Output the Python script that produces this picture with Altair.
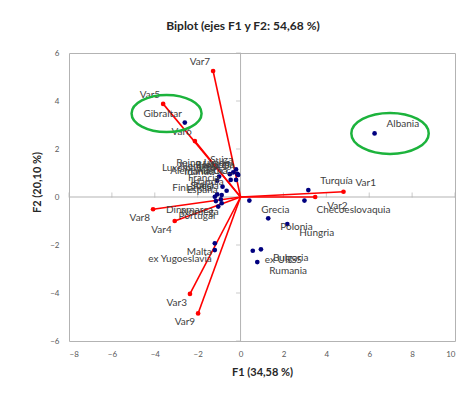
import altair as alt
import pandas as pd

# ---- variables (red vectors) ----
var_names = ["Var1", "Var2", "Var3", "Var4", "Var5", "Var6", "Var7", "Var8", "Var9"]
var_x = [4.80, 3.48, -2.36, -3.07, -3.61, -2.13, -1.28, -4.08, -1.98]
var_y = [0.22, 0.00, -4.04, -1.00, 3.88, 2.33, 5.25, -0.51, -4.85]
var_lab = ["above", "below", "below", "below", "above", "above", "above", "below", "below"]

# ---- observations (countries) ----
obs_names = ["Albania", "Gibraltar", "Turquía", "Checoeslovaquia", "Grecia", "Polonia",
             "Hungria", "ex URSS", "Bulgaria", "Rumania", "Malta", "ex Yugoeslavia",
             "Suiza", "Reino Unido", "Holanda", "Alemania Or.", "Bélgica", "Alemania Occ.",
             "Austria", "Luxemburgo", "Irlanda", "Francia", "Islandia", "Italia",
             "Suecia", "Finlandia", "España", "Dinamarca", "Noruega", "Portugal"]
obs_x = [6.25, -2.60, 3.16, 2.98, 0.41, 1.29,
         2.18, 0.57, 0.95, 0.78, -1.20, -1.20,
         -0.21, -0.34, -0.15, -0.11, -0.50, -0.21,
         -0.46, -1.00, -1.09, -0.84, -0.65, -1.09,
         -0.88, -1.20, -0.92, -1.15, -0.88, -1.04]
obs_y = [2.65, 3.10, 0.29, -0.15, -0.15, -0.89,
         -1.13, -2.24, -2.18, -2.71, -1.93, -2.21,
         1.15, 1.03, 0.96, 0.92, 0.95, 0.71,
         0.71, 0.85, 0.68, 0.43, 0.26, 0.11,
         0.08, 0.01, -0.10, -0.17, -0.26, -0.40]
obs_lab = ["above", "above", "above", "below", "below", "below",
           "below", "below", "below", "below", "below", "below",
           "above", "above", "above", "above", "above", "above",
           "above", "above", "above", "above", "above", "above",
           "above", "above", "above", "below", "below", "below"]

# ---- highlighted observations (green ellipses) ----
hl_names = ["Gibraltar", "Albania"]
hl_x = [-3.45, 6.97]
hl_y = [3.48, 2.65]

x_ticks = [-8, -6, -4, -2, 0, 2, 4, 6, 8, 10]
y_ticks = [-6, -4, -2, 0, 2, 4, 6]

FONT = "Lato"
GRAY = "#b3b3b3"
TXT = "#404040"

vars_df = pd.DataFrame({"name": var_names, "x": var_x, "y": var_y, "pos": var_lab})
obs_df = pd.DataFrame({"name": obs_names, "x": obs_x, "y": obs_y, "pos": obs_lab})
hl_df = pd.DataFrame({"name": hl_names, "x": hl_x, "y": hl_y})
xt_df = pd.DataFrame({"t": [v for v in x_ticks if v != 0]})
yt_df = pd.DataFrame({"t": [v for v in y_ticks if v != 0]})

xs = alt.Scale(domain=[-8, 10], nice=False, zero=False)
ys = alt.Scale(domain=[-6, 6], nice=False, zero=False)

x_axis = alt.Axis(values=x_ticks, title="F1 (34,58 %)", grid=False, ticks=False, domain=False,
                  labelFontSize=8, labelColor="#595959", labelPadding=9, labelFont=FONT,
                  titleFont=FONT, titleFontSize=11, titleFontWeight="bold", titleColor="#262626",
                  titlePadding=8)
y_axis = alt.Axis(values=y_ticks, title="F2 (20,10 %)", grid=False, ticks=False, domain=False,
                  labelFontSize=8, labelColor="#595959", labelPadding=10, labelFont=FONT,
                  titleFont=FONT, titleFontSize=11, titleFontWeight="bold", titleColor="#262626",
                  titlePadding=7, titleY=129)

# zero axes
zero_v = alt.Chart(pd.DataFrame({"z": [0]})).mark_rule(color=GRAY, strokeWidth=1).encode(
    x=alt.X("z:Q", scale=xs, axis=x_axis))
zero_h = alt.Chart(pd.DataFrame({"z": [0]})).mark_rule(color=GRAY, strokeWidth=1).encode(
    y=alt.Y("z:Q", scale=ys, axis=y_axis))

# small crossing ticks on the zero axes
xticks_m = alt.Chart(xt_df).mark_tick(color=GRAY, orient="vertical", size=5, thickness=1,
                                      yOffset=-2).encode(
    x=alt.X("t:Q", scale=xs), y=alt.Y(datum=0, scale=ys))
yticks_m = alt.Chart(yt_df).mark_tick(color=GRAY, orient="horizontal", size=5, thickness=1,
                                      xOffset=-2).encode(
    y=alt.Y("t:Q", scale=ys), x=alt.X(datum=0, scale=xs))

# red vectors
vec = alt.Chart(vars_df).mark_rule(color="#ff0000", strokeWidth=1.6).encode(
    x=alt.X("x:Q", scale=xs), y=alt.Y("y:Q", scale=ys),
    x2=alt.X2(datum=0), y2=alt.Y2(datum=0))
vec_pts = alt.Chart(vars_df).mark_circle(color="#ff0000", size=22, opacity=1).encode(
    x=alt.X("x:Q", scale=xs), y=alt.Y("y:Q", scale=ys))

# observation points
obs_pts = alt.Chart(obs_df).mark_circle(color="#00007f", size=22, opacity=1).encode(
    x=alt.X("x:Q", scale=xs), y=alt.Y("y:Q", scale=ys))


def labels(df, side, vert):
    cond = "datum.x > 0" if side == "right" else "datum.x <= 0"
    return alt.Chart(df).transform_filter(
        f"{cond} && datum.pos == '{vert}'"
    ).mark_text(
        font=FONT, fontSize=10, color=TXT, baseline="middle",
        align="left" if side == "right" else "right",
        dx=12 if side == "right" else -3,
        dy=-9 if vert == "above" else 9,
    ).encode(x=alt.X("x:Q", scale=xs), y=alt.Y("y:Q", scale=ys), text="name:N")


label_layers = []
for d in (obs_df, vars_df):
    for s in ("left", "right"):
        for v in ("above", "below"):
            label_layers.append(labels(d, s, v))

# green ellipses around highlighted observations
ELLIPSE = "M-1,0A1,0.53,0,1,1,1,0A1,0.53,0,1,1,-1,0Z"
ell1 = alt.Chart(hl_df).transform_filter("datum.name == 'Gibraltar'").mark_point(
    shape=ELLIPSE, filled=False, color="#1cb33c", strokeWidth=2.5, size=4900, opacity=1).encode(
    x=alt.X("x:Q", scale=xs), y=alt.Y("y:Q", scale=ys))
ell2 = alt.Chart(hl_df).transform_filter("datum.name == 'Albania'").mark_point(
    shape=ELLIPSE, filled=False, color="#1cb33c", strokeWidth=2.5, size=5990, opacity=1).encode(
    x=alt.X("x:Q", scale=xs), y=alt.Y("y:Q", scale=ys))

chart = alt.layer(
    zero_v, zero_h, xticks_m, yticks_m, vec, vec_pts, obs_pts, *label_layers, ell1, ell2
).properties(
    width=386, height=288,
    title=alt.TitleParams("Biplot (ejes F1 y F2: 54,68 %)", font=FONT, fontSize=12,
                          fontWeight="bold", color="#262626", anchor="middle", dx=-19, offset=16),
    autosize=alt.AutoSizeParams(type="none"),
    padding={"left": 69, "top": 53, "right": 10, "bottom": 58},
).configure_view(stroke=GRAY, strokeWidth=1)

chart.save("out.html", embed_options={"renderer": "svg", "actions": False})
